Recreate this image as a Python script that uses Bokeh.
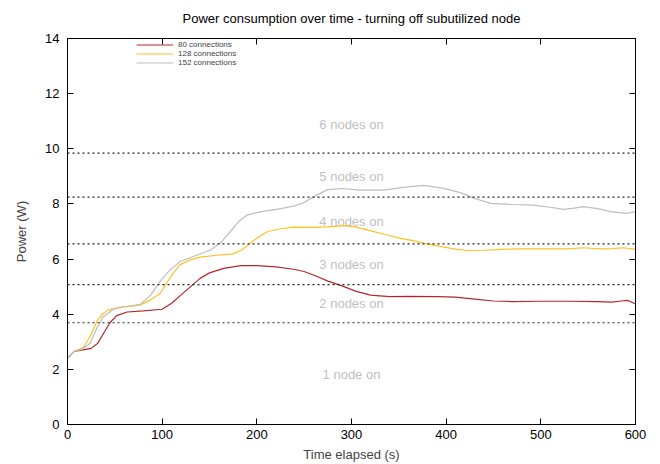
from bokeh.plotting import figure
from bokeh.models import (Span, LinearAxis, Legend, LegendItem, Range1d, ColumnDataSource,
                          CustomLabelingPolicy)
from bokeh.core.properties import value
from bokeh.embed import file_html
from bokeh.resources import INLINE

# ---- data ----
t80 = [0, 7, 15, 25, 32, 38, 45, 52, 63, 80, 100, 110, 120, 130, 140, 150, 165, 183, 200, 220, 239, 250,
       265, 275, 290, 305, 320, 340, 360, 390, 410, 430, 450, 470, 500, 530, 560, 575, 585, 592, 600]
p80 = [2.4, 2.65, 2.7, 2.76, 2.95, 3.3, 3.7, 3.95, 4.08, 4.12, 4.18, 4.4, 4.7, 5.0, 5.3, 5.5, 5.66, 5.76, 5.76, 5.72, 5.63, 5.55,
       5.35, 5.2, 5.03, 4.83, 4.69, 4.64, 4.65, 4.64, 4.62, 4.55, 4.48, 4.46, 4.47, 4.47, 4.46, 4.44, 4.48, 4.5, 4.37]

t128 = [0, 7, 17, 24, 31, 37, 42, 56, 70, 77, 88, 98, 105, 112, 119, 130, 140, 155, 175, 185, 193, 202, 211, 225,
        239, 260, 275, 292, 305, 317, 335, 352, 365, 377, 395, 410, 422, 440, 460, 475, 500, 528, 545, 563, 575, 587, 598, 600]
p128 = [2.4, 2.65, 2.8, 3.2, 3.74, 4.0, 4.14, 4.26, 4.3, 4.34, 4.52, 4.76, 5.15, 5.5, 5.8, 5.98, 6.07, 6.13, 6.19, 6.35, 6.57, 6.8, 6.99, 7.1,
        7.16, 7.15, 7.17, 7.21, 7.16, 7.05, 6.9, 6.75, 6.67, 6.57, 6.45, 6.36, 6.31, 6.32, 6.35, 6.37, 6.37, 6.37, 6.41, 6.37, 6.38, 6.41, 6.36, 6.36]

t152 = [0, 7, 15, 24, 31, 38, 49, 60, 77, 88, 98, 108, 119, 135, 151, 162, 172, 182, 190, 205, 222, 239, 250, 262,
        275, 290, 309, 334, 355, 376, 395, 415, 430, 447, 470, 492, 510, 524, 535, 545, 560, 574, 589, 600]
p152 = [2.4, 2.65, 2.72, 2.95, 3.5, 3.92, 4.19, 4.27, 4.36, 4.7, 5.2, 5.6, 5.91, 6.12, 6.33, 6.6, 7.0, 7.4, 7.6, 7.72, 7.81, 7.92, 8.05, 8.3,
        8.52, 8.56, 8.5, 8.5, 8.6, 8.67, 8.58, 8.41, 8.2, 8.02, 7.98, 7.96, 7.88, 7.8, 7.85, 7.9, 7.83, 7.72, 7.66, 7.71]

series_names = ["80 connections", "128 connections", "152 connections"]
series_colors = ["#b3282d", "#ffc020", "#bebebe"]

thresholds = [9.84, 8.25, 6.55, 5.07, 3.69]
node_labels = ["6 nodes on", "5 nodes on", "4 nodes on", "3 nodes on", "2 nodes on", "1 node on"]
node_label_y = [10.89, 9.01, 7.38, 5.79, 4.38, 1.81]
node_label_x = [300] * len(node_labels)

x_ticks = [0, 100, 200, 300, 400, 500, 600]
y_ticks = [0, 2, 4, 6, 8, 10, 12, 14]

FONT = "Liberation Sans"
FS = "13px"

p = figure(width=660, height=464, output_backend="svg", toolbar_location=None,
           x_range=Range1d(0, 600), y_range=Range1d(0, 14),
           min_border_left=67, min_border_right=25, min_border_top=38, min_border_bottom=39,
           title="Power consumption over time - turning off subutilized node")

p.title.text_font = FONT
p.title.text_font_size = FS
p.title.text_font_style = "normal"
p.title.align = "center"
p.title.text_color = "black"
p.title.standoff = 17

p.grid.visible = False
p.outline_line_color = "black"
p.outline_line_width = 1
p.background_fill_color = "white"
p.border_fill_color = "white"

for ax in (p.xaxis[0], p.yaxis[0]):
    ax.major_tick_in = 6
    ax.major_tick_out = 0
    ax.minor_tick_line_color = None
    ax.major_label_text_font = FONT
    ax.major_label_text_font_size = FS
    ax.major_label_text_color = "black"
    ax.axis_label_text_font = FONT
    ax.axis_label_text_font_size = FS
    ax.axis_label_text_font_style = "normal"
    ax.axis_line_color = "black"
    ax.major_tick_line_color = "black"

p.xaxis.ticker = x_ticks
p.yaxis.ticker = y_ticks
p.xaxis.axis_label = "Time elapsed (s)"
p.yaxis.axis_label = "Power (W)"
p.xaxis.major_label_standoff = 5
p.yaxis.major_label_standoff = 8
p.xaxis.axis_label_standoff = 5
p.yaxis.axis_label_standoff = 13

# mirrored ticks on top and right (no labels drawn)
for loc, ticks in (("right", y_ticks), ("above", x_ticks)):
    ax = LinearAxis(ticker=ticks, major_label_policy=CustomLabelingPolicy(code="return []"))
    ax.major_tick_in = 6
    ax.major_tick_out = 0
    ax.minor_tick_line_color = None
    ax.major_label_text_font_size = "1px"
    ax.major_label_standoff = 0
    ax.axis_line_color = "black"
    ax.major_tick_line_color = "black"
    p.add_layout(ax, loc)

for y in thresholds:
    p.add_layout(Span(location=y, dimension="width", line_color="#222222",
                      line_dash="2 3", line_width=1.2))

src = ColumnDataSource(dict(x=node_label_x, y=node_label_y, t=node_labels))
p.text(x="x", y="y", text="t", source=src, text_align="center", text_baseline="middle",
       text_color="#c0c0c0", text_font=value(FONT), text_font_size=FS)

renderers = []
for xs, ys, c in ((t80, p80, series_colors[0]), (t128, p128, series_colors[1]), (t152, p152, series_colors[2])):
    renderers.append(p.line(xs, ys, line_color=c, line_width=1.2))

legend = Legend(items=[LegendItem(label=n, renderers=[r]) for n, r in zip(series_names, renderers)],
                location=(69, 357), orientation="vertical")
legend.label_text_font = FONT
legend.label_text_font_size = "8px"
legend.label_height = 7
legend.glyph_height = 7
legend.glyph_width = 37
legend.spacing = -2
legend.padding = 0
legend.margin = 0
legend.label_standoff = 5
legend.border_line_color = None
legend.background_fill_alpha = 0
legend.label_text_line_height = 0.9
p.add_layout(legend)

open("out.html", "w").write(file_html(p, INLINE))
